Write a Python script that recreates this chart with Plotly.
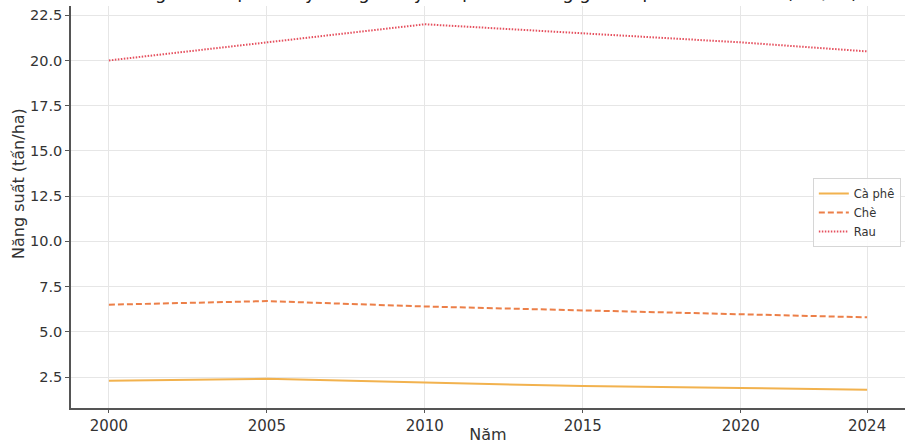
import plotly.graph_objects as go

# Năm quan sát
years = [2000, 2005, 2010, 2015, 2020, 2024]

# Năng suất (tấn/ha)
ca_phe = [2.3, 2.4, 2.2, 2.0, 1.9, 1.8]
che = [6.5, 6.7, 6.4, 6.2, 6.0, 5.8]
rau = [20.0, 21.0, 22.0, 21.5, 21.0, 20.5]

y_ticks = [2.5, 5.0, 7.5, 10.0, 12.5, 15.0, 17.5, 20.0, 22.5]
y_tick_text = ["2.5", "5.0", "7.5", "10.0", "12.5", "15.0", "17.5", "20.0", "22.5"]

title_text = "Năng suất một số cây trồng chủ yếu tại Lâm Đồng giai đoạn 2000 – 2024 (tấn/ha)"
x_title = "Năm"
y_title = "Năng suất (tấn/ha)"

font_family = "DejaVu Sans"
text_color = "#333333"

W, H = 905, 444
L, R, T, B = 71, 0, 6, 36
plot_w, plot_h = W - L - R, H - T - B

fig = go.Figure()
fig.add_trace(go.Scatter(
    x=years, y=ca_phe, name="Cà phê", mode="lines",
    line=dict(color="#f2b24e", width=2, dash="solid"),
))
fig.add_trace(go.Scatter(
    x=years, y=che, name="Chè", mode="lines",
    line=dict(color="#ec7f48", width=2, dash="6px,3px"),
))
fig.add_trace(go.Scatter(
    x=years, y=rau, name="Rau", mode="lines",
    line=dict(color="#e5505e", width=2, dash="1.5px,1.5px"),
))

fig.update_layout(
    width=W, height=H,
    margin=dict(l=L, r=R, t=T, b=B),
    paper_bgcolor="white",
    plot_bgcolor="white",
    font=dict(family=font_family, color=text_color, size=12),
    showlegend=True,
    legend=dict(
        x=0.995, xanchor="right",
        y=(408 - 178) / plot_h, yanchor="top",
        bgcolor="rgba(255,255,255,0.85)",
        bordercolor="#d6d6d6", borderwidth=1,
        font=dict(size=11.5, color=text_color),
        itemwidth=30,
        tracegroupgap=0,
    ),
    annotations=[
        # chart title, sitting just above the plotting area
        dict(
            text=title_text, xref="paper", yref="paper",
            x=0.5, y=1, xanchor="center", yanchor="bottom",
            yshift=1, showarrow=False,
            font=dict(size=18, color="#222222"),
        ),
        # y-axis title
        dict(
            text=y_title, xref="paper", yref="paper",
            x=(18 - L) / plot_w, y=(408 - 184) / plot_h,
            xanchor="center", yanchor="middle", textangle=-90,
            showarrow=False, font=dict(size=16, color=text_color),
        ),
    ],
)

fig.update_xaxes(
    range=[1998.8, 2025.2],
    tickmode="array", tickvals=years, ticktext=[str(y) for y in years],
    showgrid=True, gridcolor="#e6e6e6", gridwidth=1,
    showline=True, linecolor="#555555", linewidth=1.5,
    ticks="outside", ticklen=3, tickcolor="#555555",
    tickfont=dict(size=15, color=text_color),
    title=dict(text=x_title, font=dict(size=16, color=text_color), standoff=2),
    automargin=False,
    zeroline=False, mirror=False,
)
fig.update_yaxes(
    range=[0.79, 23.01],
    tickmode="array", tickvals=y_ticks, ticktext=y_tick_text,
    showgrid=True, gridcolor="#e6e6e6", gridwidth=1,
    showline=True, linecolor="#555555", linewidth=1.5,
    ticks="outside", ticklen=4, tickcolor="#555555",
    tickfont=dict(size=14.5, color=text_color),
    automargin=False,
    zeroline=False, mirror=False,
)

fig.write_html("out.html")
